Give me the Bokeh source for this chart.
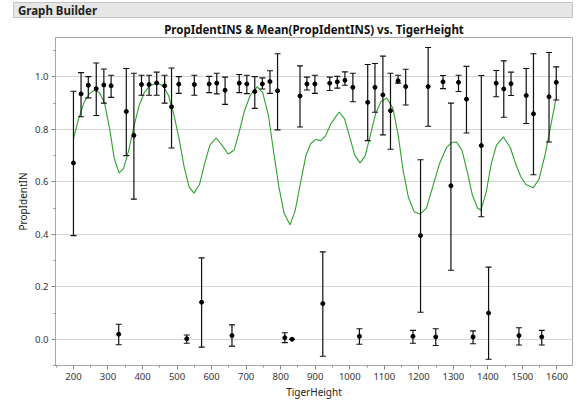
from bokeh.plotting import figure
from bokeh.models import Div, Range1d, FixedTicker, NumeralTickFormatter, ColumnDataSource
from bokeh.layouts import column
from bokeh.embed import file_html
from bokeh.resources import INLINE

# ---- data ----
tiger_height = [200, 222, 243, 266, 288, 309, 331, 353, 375, 397, 419, 441, 464, 484, 505, 528,
                550, 571, 593, 615, 639, 659, 680, 702, 725, 747, 769, 791, 812, 833, 856, 876,
                899, 922, 942, 964, 986, 1009, 1028, 1052, 1073, 1096, 1118, 1140, 1162, 1183,
                1205, 1227, 1249, 1270, 1293, 1315, 1338, 1357, 1381, 1402, 1424, 1446, 1467,
                1490, 1511, 1532, 1556, 1577, 1598]
mean_prop = [0.672, 0.935, 0.968, 0.955, 0.969, 0.966, 0.019, 0.868, 0.777, 0.971, 0.971, 0.977,
             0.966, 0.886, 0.972, 0.002, 0.971, 0.141, 0.973, 0.976, 0.949, 0.014, 0.976, 0.973,
             0.944, 0.973, 0.982, 0.947, 0.006, 0.0, 0.927, 0.973, 0.973, 0.136, 0.976, 0.981,
             0.987, 0.960, 0.011, 0.903, 0.960, 0.931, 0.871, 0.985, 0.963, 0.011, 0.395, 0.963,
             0.009, 0.981, 0.585, 0.979, 0.915, 0.009, 0.738, 0.100, 0.976, 0.954, 0.974, 0.014,
             0.929, 0.859, 0.009, 0.924, 0.979]
lower_prop = [0.395, 0.848, 0.920, 0.853, 0.900, 0.922, -0.021, 0.700, 0.534, 0.930, 0.930, 0.930,
              0.900, 0.729, 0.937, -0.015, 0.930, -0.030, 0.940, 0.935, 0.895, -0.026, 0.940, 0.936,
              0.880, 0.954, 0.937, 0.798, -0.013, 0.0, 0.809, 0.950, 0.937, -0.065, 0.948, 0.957,
              0.968, 0.905, -0.019, 0.757, 0.865, 0.779, 0.724, 0.976, 0.893, -0.015, 0.103, 0.812,
              -0.024, 0.955, 0.263, 0.944, 0.786, -0.017, 0.467, -0.076, 0.924, 0.846, 0.929, -0.022,
              0.822, 0.627, -0.022, 0.752, 0.912]
upper_prop = [0.945, 1.016, 1.001, 1.053, 1.030, 1.006, 0.057, 1.032, 1.014, 1.006, 1.006, 1.018,
              1.006, 1.034, 1.001, 0.016, 1.006, 0.310, 1.002, 1.014, 0.999, 0.055, 1.009, 1.006,
              1.001, 0.996, 1.023, 1.088, 0.025, 0.0, 1.042, 0.999, 1.006, 0.333, 0.999, 1.002,
              1.019, 1.014, 0.040, 1.047, 1.051, 1.079, 1.014, 1.006, 1.029, 0.034, 0.684, 1.112,
              0.040, 1.005, 0.900, 1.006, 1.040, 0.032, 1.005, 0.275, 1.024, 1.061, 1.018, 0.044,
              1.032, 1.088, 0.034, 1.093, 1.038]

# smoother curve
curve_x = [200, 215, 230, 245, 260, 275, 290, 305, 318, 332, 345, 360, 375, 390, 405, 420, 442,
           460, 475, 490, 505, 520, 535, 549, 565, 580, 595, 613, 630, 648, 665, 680, 695, 712,
           732, 748, 765, 780, 795, 810, 827, 842, 858, 873, 887, 901, 916, 930, 945, 969, 985,
           1000, 1015, 1030, 1045, 1060, 1075, 1090, 1107, 1125, 1140, 1155, 1170, 1187, 1204,
           1222, 1240, 1260, 1280, 1295, 1309, 1325, 1340, 1355, 1370, 1380, 1395, 1410, 1425,
           1445, 1465, 1480, 1495, 1510, 1531, 1548, 1565, 1580, 1597]
curve_y = [0.765, 0.84, 0.90, 0.935, 0.949, 0.94, 0.90, 0.80, 0.69, 0.634, 0.65, 0.72, 0.81,
           0.89, 0.94, 0.965, 0.977, 0.965, 0.93, 0.86, 0.77, 0.66, 0.58, 0.557, 0.59, 0.67,
           0.74, 0.767, 0.74, 0.706, 0.72, 0.79, 0.87, 0.93, 0.962, 0.94, 0.85, 0.71, 0.58, 0.48,
           0.436, 0.49, 0.60, 0.70, 0.745, 0.761, 0.757, 0.775, 0.82, 0.866, 0.84, 0.77, 0.70,
           0.672, 0.70, 0.78, 0.86, 0.905, 0.92, 0.88, 0.78, 0.64, 0.54, 0.485, 0.477, 0.50,
           0.58, 0.67, 0.73, 0.75, 0.752, 0.72, 0.64, 0.55, 0.50, 0.492, 0.56, 0.67, 0.74, 0.771,
           0.73, 0.67, 0.62, 0.59, 0.577, 0.61, 0.70, 0.80, 0.916]

x_ticks = [200, 300, 400, 500, 600, 700, 800, 900, 1000, 1100, 1200, 1300, 1400, 1500, 1600]
y_ticks = [0.0, 0.2, 0.4, 0.6, 0.8, 1.0]

FONT = "Noto Sans"

header = Div(text="<b>Graph Builder</b>", width=560, height=16, margin=(2, 0, 0, 13),
             styles={"background-color": "#e6e6e6", "border": "1px solid #c4c4c4",
                     "font-family": FONT, "font-size": "11.5px", "color": "#222",
                     "padding-left": "4px", "line-height": "16px", "box-sizing": "border-box"})

p = figure(width=578, height=383, output_backend="svg", toolbar_location=None,
           title="PropIdentINS & Mean(PropIdentINS) vs. TigerHeight",
           x_range=Range1d(148, 1645), y_range=Range1d(-0.1, 1.15),
           min_border_left=55, min_border_right=6, min_border_top=8, min_border_bottom=10)
p.title.align = "center"
p.title.text_font = FONT
p.title.text_font_size = "11.5px"
p.title.text_font_style = "bold"
p.title.text_color = "#111"
p.title.offset = 0
p.title.standoff = 2

p.background_fill_color = "white"
p.border_fill_color = "white"
p.outline_line_color = "#a8a8a8"

p.xgrid.grid_line_color = None
p.ygrid.grid_line_color = "#d4d4d4"
p.ygrid.grid_line_width = 1

for ax in (p.xaxis[0], p.yaxis[0]):
    ax.axis_line_color = "#a8a8a8"
    ax.major_tick_line_color = "#888"
    ax.minor_tick_line_color = "#888"
    ax.major_tick_in = 0
    ax.major_tick_out = 4
    ax.minor_tick_in = 0
    ax.minor_tick_out = 2
    ax.major_label_text_font = FONT
    ax.major_label_text_font_size = "9.5px"
    ax.major_label_text_color = "#333"
    ax.axis_label_text_font = FONT
    ax.axis_label_text_font_size = "10px"
    ax.axis_label_text_font_style = "normal"
    ax.axis_label_text_color = "#222"

p.xaxis.ticker = FixedTicker(ticks=x_ticks, minor_ticks=[v + 50 for v in [100] + x_ticks])
p.yaxis.ticker = FixedTicker(ticks=y_ticks, minor_ticks=[-0.1, 0.1, 0.3, 0.5, 0.7, 0.9, 1.1])
p.yaxis.formatter = NumeralTickFormatter(format="0.0")
p.xaxis.axis_label = "TigerHeight"
p.yaxis.axis_label = "PropIdentIN"
p.xaxis.major_label_standoff = 3
p.yaxis.major_label_standoff = 3
p.xaxis.axis_label_standoff = 2
p.yaxis.axis_label_standoff = 2

src = ColumnDataSource(dict(x=tiger_height, m=mean_prop, lo=lower_prop, hi=upper_prop))

p.line(curve_x, curve_y, line_color="#2ea02e", line_width=1.1)
p.segment(x0="x", y0="lo", x1="x", y1="hi", source=src, line_color="#111", line_width=1.2)
p.scatter(x="x", y="lo", source=src, marker="dash", size=6, line_color="#111", line_width=1.1)
p.scatter(x="x", y="hi", source=src, marker="dash", size=6, line_color="#111", line_width=1.1)
p.scatter(x="x", y="m", source=src, marker="circle", size=4, fill_color="black", line_color="black")

layout = column(header, p, spacing=0)
open("out.html", "w").write(file_html(layout, INLINE))
